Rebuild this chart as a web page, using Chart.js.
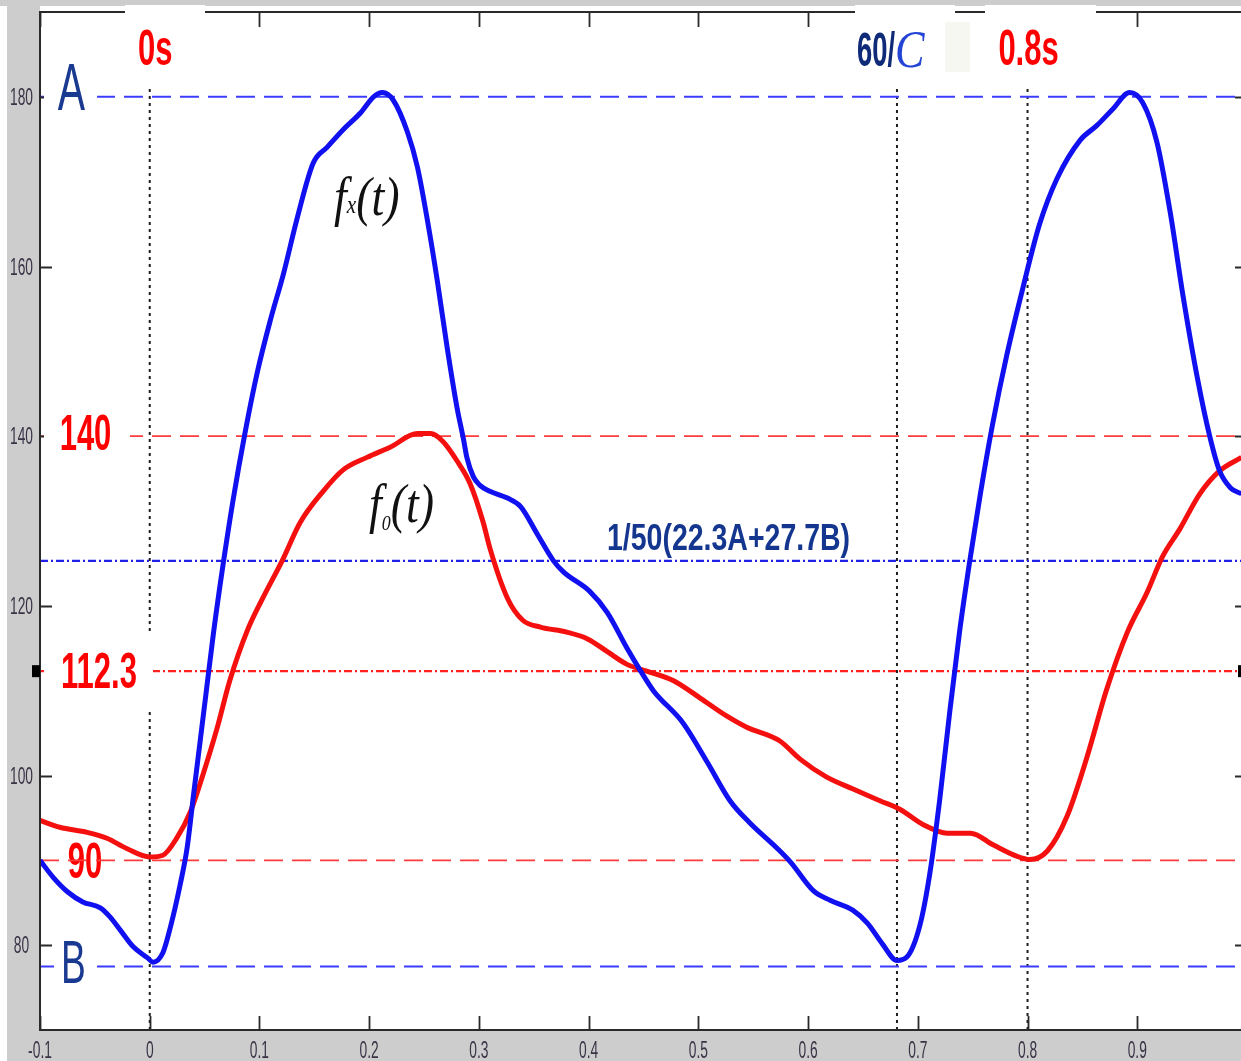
<!DOCTYPE html>
<html>
<head>
<meta charset="utf-8">
<script src="https://cdn.jsdelivr.net/npm/chart.js@4.4.1/dist/chart.umd.min.js"></script>
<style>
  html, body { margin: 0; padding: 0; overflow: hidden; background: #ffffff; }
  #wrap { position: relative; width: 1260px; height: 1061px; }
  canvas { display: block; }
</style>
</head>
<body>
<div id="wrap"><canvas id="c" width="1260" height="1061"></canvas></div>
<script>
// ---- axis ticks ----
const xTickValues = [-0.1, 0, 0.1, 0.2, 0.3, 0.4, 0.5, 0.6, 0.7, 0.8, 0.9];
const xTickLabels = ['-0.1', '0', '0.1', '0.2', '0.3', '0.4', '0.5', '0.6', '0.7', '0.8', '0.9'];
const yTickValues = [80, 100, 120, 140, 160, 180];
const yTickLabels = ['80', '100', '120', '140', '160', '180'];

// ---- f_x(t): measured waveform (time in s) ----
const fxTime = [
  -0.100, -0.088, -0.075, -0.061, -0.045, -0.036, -0.027, -0.015, -0.002, 0.003,
   0.012,  0.019,  0.028,  0.034,  0.040,  0.046,  0.052,  0.058,  0.067, 0.076,
   0.087,  0.098,  0.110,  0.122,  0.134,  0.149,  0.162,  0.176,  0.192, 0.204,
   0.212,  0.222,  0.235,  0.244,  0.253,  0.262,  0.271,  0.280,  0.286, 0.289,
   0.295,  0.301,  0.310,  0.326,  0.338,  0.353,  0.368,  0.377,  0.401, 0.417,
   0.435,  0.447,  0.459,  0.486,  0.508,  0.529,  0.547,  0.572,  0.584, 0.605,
   0.620,  0.641,  0.654,  0.668,  0.681,  0.690,  0.702,  0.711,  0.720, 0.729,
   0.738,  0.747,  0.757,  0.768,  0.781,  0.796,  0.811,  0.827,  0.848, 0.863,
   0.878,  0.893,  0.905,  0.918,  0.930,  0.942,  0.955,  0.966,  0.975, 0.985,
   0.995
];
const fxValue = [
   90.0,  88.0,  86.3,  85.1,  84.4,  83.3,  81.8,  79.8,  78.5,  78.0,
   79.1,  82.2,  87.3,  91.4,  97.8, 104.1, 110.4, 116.7, 125.0, 132.5,
  140.5, 147.5, 153.7, 159.2, 165.5, 172.2, 174.1, 176.1, 178.1, 180.0,
  180.5, 179.6, 175.8, 171.7, 165.5, 158.4, 150.5, 143.4, 139.6, 137.5,
  135.2, 134.2, 133.5, 132.7, 131.7, 128.5, 125.3, 124.0, 121.7, 119.2,
  115.0, 112.4, 110.0, 106.2, 101.6,  97.0,  94.4,  91.4,  89.8,  86.4,
   85.3,  84.1,  82.6,  80.1,  78.2,  78.6,  82.4,  88.5,  97.2, 107.4,
  116.9, 125.0, 133.2, 141.3, 149.5, 157.6, 165.0, 170.4, 174.9, 176.6,
  178.6, 180.5, 179.3, 174.6, 166.4, 156.3, 146.7, 140.0, 135.9, 133.9,
  133.2
];

// ---- f_0(t): reference waveform ----
const f0Time = [
  -0.100, -0.082, -0.057, -0.039, -0.021, 0.000, 0.012, 0.025, 0.037, 0.049,
   0.061,  0.073,  0.089,  0.103,  0.121, 0.137, 0.158, 0.176, 0.198, 0.219,
   0.244,  0.256,  0.267,  0.280,  0.292, 0.304, 0.310, 0.326, 0.340, 0.356,
   0.380,  0.399,  0.417,  0.435,  0.453, 0.477, 0.502, 0.526, 0.544, 0.574,
   0.593,  0.617,  0.641,  0.666,  0.684, 0.705, 0.727, 0.748, 0.769, 0.790,
   0.802,  0.818,  0.836,  0.854,  0.872, 0.891, 0.909, 0.923, 0.939, 0.957,
   0.975,  0.995
];
const f0Value = [
   94.7,  93.9,  93.3,  92.6,  91.4,  90.4,  90.6,  92.7,  95.7, 100.3,
  105.4, 111.2, 117.1, 120.9, 125.4, 129.8, 133.5, 136.0, 137.5, 138.7,
  140.3, 140.3, 139.4, 137.1, 134.4, 129.8, 126.8, 120.9, 118.3, 117.5,
  116.9, 116.1, 114.6, 113.1, 112.3, 111.2, 109.1, 107.0, 105.7, 104.1,
  101.9,  99.8,  98.4,  97.0,  96.0,  94.2,  93.2,  93.2,  91.8,  90.5,
   90.1,  91.1,  95.2, 102.1, 110.1, 116.9, 121.6, 125.8, 129.1, 133.2,
  135.9, 137.5
];

// ---- reference levels and time markers ----
const levelA = 180;        // A
const levelB = 77.5;       // B
const levelHigh0 = 140;
const levelLow0 = 90;
const levelMean0 = 112.3;
const levelMeanX = 125.3;  // 1/50(22.3A+27.7B)
const markerTimes = [0, 0.681, 0.8];
const markerTop = 181.4;

const X_MIN = -0.1, X_MAX = 1.0, Y_MIN = 70, Y_MAX = 190;

const toPoints = (ts, vs) => ts.map((t, i) => ({ x: t, y: vs[i] }));

const BLUE = '#1010f0';
const RED = '#f51010';
const NAVY = '#14368e';

function hLine(level, color, dash, width) {
  return {
    data: [{ x: X_MIN, y: level }, { x: X_MAX, y: level }],
    borderColor: color, borderDash: dash, borderWidth: width,
    pointRadius: 0, tension: 0, order: 3
  };
}
function vLine(t) {
  return {
    data: [{ x: t, y: Y_MIN }, { x: t, y: markerTop }],
    borderColor: '#1e1e1e', borderDash: [3, 4], borderWidth: 2,
    pointRadius: 0, tension: 0, order: 3
  };
}

const datasets = [
  {
    label: 'fx(t)', data: toPoints(fxTime, fxValue),
    borderColor: BLUE, borderWidth: 5, pointRadius: 0,
    cubicInterpolationMode: 'monotone', order: 0
  },
  {
    label: 'f0(t)', data: toPoints(f0Time, f0Value),
    borderColor: RED, borderWidth: 5, pointRadius: 0,
    cubicInterpolationMode: 'monotone', order: 1
  },
  hLine(levelA, '#3c3cff', [19, 9], 2),
  hLine(levelB, '#3c3cff', [19, 9], 2),
  hLine(levelHigh0, '#ff3c3c', [19, 9], 1.6),
  hLine(levelLow0, '#ff3c3c', [19, 9], 1.6),
  hLine(levelMean0, '#ff2020', [8, 3, 2, 3], 2.2),
  hLine(levelMeanX, '#2020e6', [8, 3, 2, 3], 2.4),
  ...markerTimes.map(vLine)
];

// text with horizontal compression
function txt(ctx, s, x, y, font, color, sx, align) {
  ctx.save();
  ctx.font = font;
  ctx.fillStyle = color;
  ctx.textAlign = align || 'center';
  ctx.textBaseline = 'alphabetic';
  ctx.translate(x, y);
  ctx.scale(sx, 1);
  ctx.fillText(s, 0, 0);
  ctx.restore();
}
function txtWidth(ctx, s, font, sx) {
  ctx.save();
  ctx.font = font;
  const w = ctx.measureText(s).width * sx;
  ctx.restore();
  return w;
}

const SANS = "'Liberation Sans', Arimo, Arial, sans-serif";
const SERIF = "'Liberation Serif', Tinos, 'Times New Roman', serif";
const BIG_RED = 'bold 50px ' + SANS;
const TICK_FONT = '23px ' + SANS;

const framePlugin = {
  id: 'frame',
  beforeDraw(chart) {
    const { ctx, chartArea: a, width: W, height: H } = chart;
    ctx.save();
    ctx.fillStyle = '#cdcdcd';
    ctx.fillRect(0, 0, W, H);
    ctx.fillStyle = '#ffffff';
    ctx.fillRect(0, 6, 7, H - 6);
    ctx.fillRect(a.left, 6, W - a.left, a.top - 5);
    ctx.fillRect(a.left, a.top, a.right - a.left, a.bottom - a.top);
    ctx.restore();
  },
  beforeDatasetsDraw(chart) {
    const { ctx, scales: { y } } = chart;
    // the 90 label sits under its own dashed line
    txt(ctx, '90', 85, y.getPixelForValue(levelLow0) + 18, BIG_RED, '#ff0000', 0.62);
  },
  afterDatasetsDraw(chart) {
    const { ctx, chartArea: a, scales: { x, y }, width: W } = chart;
    ctx.save();

    // axes frame
    ctx.strokeStyle = '#2a2a2a';
    ctx.lineWidth = 2;
    ctx.beginPath();
    ctx.moveTo(a.left, a.top); ctx.lineTo(a.left, a.bottom);
    ctx.moveTo(a.left - 1, a.bottom); ctx.lineTo(W, a.bottom);
    ctx.moveTo(a.left - 1, a.top); ctx.lineTo(W, a.top);
    ctx.moveTo(a.right, a.top); ctx.lineTo(a.right, a.bottom);
    ctx.stroke();

    // inward ticks
    ctx.lineWidth = 1.8;
    ctx.beginPath();
    xTickValues.forEach(v => {
      const px = Math.round(x.getPixelForValue(v)) + 0.5;
      ctx.moveTo(px, a.bottom); ctx.lineTo(px, a.bottom - 14);
      ctx.moveTo(px, a.top); ctx.lineTo(px, a.top + 15);
    });
    yTickValues.forEach(v => {
      const py = Math.round(y.getPixelForValue(v)) + 0.5;
      ctx.moveTo(a.left, py); ctx.lineTo(a.left + 12, py);
      ctx.moveTo(a.right, py); ctx.lineTo(a.right - 12, py);
    });
    ctx.stroke();

    // label backgrounds
    ctx.fillStyle = '#ffffff';
    const yA = y.getPixelForValue(levelA), yB = y.getPixelForValue(levelB);
    const yH = y.getPixelForValue(levelHigh0), yM = y.getPixelForValue(levelMean0);
    ctx.fillRect(44, yA - 40, 53, 78);
    ctx.fillRect(54, yB - 30, 43, 62);
    ctx.fillRect(44, yH - 28, 86, 55);
    ctx.fillRect(44, yM - 40, 109, 80);
    ctx.fillRect(125, 5, 80, 75);
    ctx.fillRect(855, 5, 100, 75);
    ctx.fillRect(985, 5, 111, 75);
    ctx.fillStyle = '#f7f7f2';
    ctx.fillRect(945, 22, 25, 50);

    // level markers on the side axes
    ctx.fillStyle = '#000000';
    ctx.fillRect(a.left - 8, yM - 6, 8, 12);
    ctx.fillRect(a.right - 9, yM - 6, 9, 12);
    ctx.restore();

    // value labels
    txt(ctx, '0s', x.getPixelForValue(0) + 5.5, 65, BIG_RED, '#ff0000', 0.62);
    txt(ctx, '0.8s', x.getPixelForValue(0.8) + 1, 65, BIG_RED, '#ff0000', 0.62);
    txt(ctx, '140', 85.5, yH + 14, BIG_RED, '#ff0000', 0.62);
    txt(ctx, '112.3', 99, yM + 17, BIG_RED, '#ff0000', 0.62);

    txt(ctx, 'A', 71.5, yA + 13, '66px ' + SANS, '#1a3a92', 0.62);
    txt(ctx, 'B', 73.5, yB + 17, '62px ' + SANS, '#1a3a92', 0.6);

    // 60/C
    const f60 = 'bold 48px ' + SANS;
    txt(ctx, '60/', 857, 66, f60, '#0e2a78', 0.57, 'left');
    const w60 = txtWidth(ctx, '60/', f60, 0.57);
    txt(ctx, 'C', 857 + w60, 67, 'italic 52px ' + SERIF, '#2444d6', 0.85, 'left');

    // average level formula
    txt(ctx, '1/50(22.3A+27.7B)', 728.5, y.getPixelForValue(levelMeanX) - 11,
        'bold 37px ' + SANS, NAVY, 0.77);

    // curve names
    const fMain = 'italic 54px ' + SERIF;
    let cx = 334;
    txt(ctx, 'f', cx, 215, fMain, '#111111', 0.85, 'left');
    cx += txtWidth(ctx, 'f', fMain, 0.85);
    const fSubX = 'italic 25px ' + SERIF;
    txt(ctx, 'x', cx, 213, fSubX, '#111111', 0.85, 'left');
    cx += txtWidth(ctx, 'x', fSubX, 0.85);
    txt(ctx, '(t)', cx, 215, fMain, '#111111', 0.85, 'left');

    cx = 369;
    txt(ctx, 'f', cx, 522, fMain, '#111111', 0.85, 'left');
    cx += txtWidth(ctx, 'f', fMain, 0.85);
    const fSub0 = 'italic 21px ' + SERIF;
    txt(ctx, '0', cx, 530, fSub0, '#111111', 0.85, 'left');
    cx += txtWidth(ctx, '0', fSub0, 0.85);
    txt(ctx, '(t)', cx, 522, fMain, '#111111', 0.85, 'left');

    // tick labels
    xTickValues.forEach((v, i) => {
      txt(ctx, xTickLabels[i], x.getPixelForValue(v), a.bottom + 28, TICK_FONT, '#3a3346', 0.6);
    });
    yTickValues.forEach((v, i) => {
      txt(ctx, yTickLabels[i], 21.5, y.getPixelForValue(v) + 8, TICK_FONT, '#3a3346', 0.6);
    });
  }
};

new Chart(document.getElementById('c').getContext('2d'), {
  type: 'line',
  data: { datasets },
  options: {
    responsive: false,
    animation: false,
    events: [],
    layout: { padding: { left: 40, top: 12, right: 13, bottom: 31 } },
    scales: {
      x: { type: 'linear', min: X_MIN, max: X_MAX, display: false },
      y: { type: 'linear', min: Y_MIN, max: Y_MAX, display: false }
    },
    plugins: { legend: { display: false }, tooltip: { enabled: false } }
  },
  plugins: [framePlugin]
});
</script>
</body>
</html>
